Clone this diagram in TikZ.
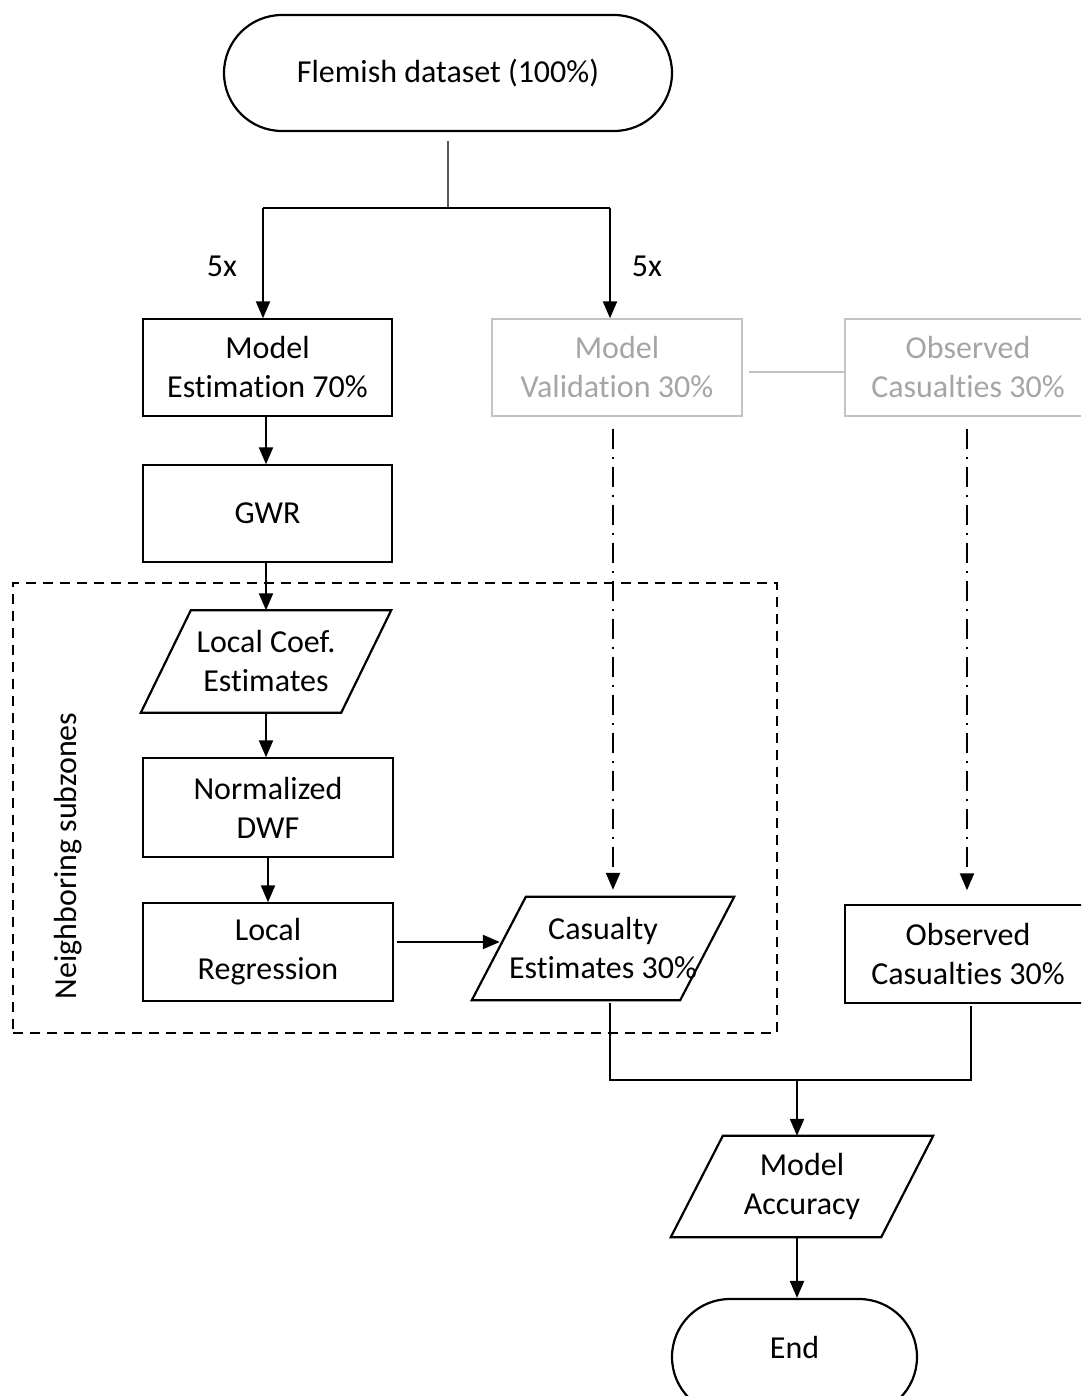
\documentclass[tikz,border=0pt]{standalone}
\usepackage{fontspec}
\setmainfont{Carlito}[Ligatures=NoCommon]
\usetikzlibrary{arrows.meta,shapes.misc,calc}
\definecolor{ghost}{RGB}{165,165,165}
\definecolor{ghostline}{RGB}{195,195,195}
\definecolor{stem}{RGB}{90,90,90}
% outline of a slanted data box around a text holder node
\newcommand\slantbox[2]{\draw[paraline] ([xshift=#2]#1.north west) -- ([xshift=#2]#1.north east) -- ([xshift=-#2]#1.south east) -- ([xshift=-#2]#1.south west) -- cycle;}
\begin{document}
\begin{tikzpicture}[x=1pt,y=-1pt,
  every node/.style={font=\fontsize{32}{39}\selectfont, align=center, inner sep=0pt},
  box/.style={draw=black, line width=1.4pt, minimum width=250pt, minimum height=98pt},
  ghostbox/.style={box, draw=ghostline, text=ghost},
  term/.style={rounded rectangle, draw=black, line width=2.2pt},
  slab/.style={inner sep=0pt},
  paraline/.style={line width=2.2pt, line join=miter},
  arr/.style={line width=2.2pt, -{Triangle[width=14pt,length=17pt]}},
  stemline/.style={line width=1.3pt, draw=stem},
  joinline/.style={line width=1.4pt, draw=black},
  hline/.style={line width=2pt},
  ghostlink/.style={line width=1.4pt, draw=ghostline},
  dashdot/.style={line width=2.4pt, dash pattern=on 20pt off 8pt on 2pt off 8pt},
  zone/.style={draw=black, line width=2.4pt, dash pattern=on 10pt off 7pt}
]
\useasboundingbox (0,0) rectangle (1081,1396);
\clip (0,0) rectangle (1081,1396);

% start terminal and the split into two folds
\node[term, minimum width=448pt, minimum height=116pt] (start) at (448,73) {Flemish dataset (100\%)};
\coordinate (splitL) at (263,208);
\coordinate (splitR) at (610,208);

% top row
\node[box, minimum width=249pt, minimum height=97pt] (est) at (267.5,367.5) {Model\\Estimation 70\%};
\node[ghostbox, minimum height=97pt] (val) at (617,367.5) {Model\\Validation 30\%};
\node[ghostbox, minimum width=246pt, minimum height=97pt] (obsg) at (968,367.5) {Observed\\Casualties 30\%};

\node (rep1) at (222,266) {5x};
\node (rep2) at (647,266) {5x};

% estimation chain
\node[box, minimum width=249pt, minimum height=97pt] (gwr) at (267.5,513.5) {GWR};
\node[zone, minimum width=764pt, minimum height=450pt] (zone) at (395,808) {};
\node[rotate=90] (zonelabel) at (68,856) {Neighboring subzones};
\node[slab, minimum width=200pt, minimum height=102pt] (lce) at (266,661.5) {Local Coef.\\Estimates};
\node[box, minimum height=99pt] (dwf) at (268,807.5) {Normalized\\DWF};
\node[box] (lr) at (268,952) {Local\\Regression};
\node[slab, minimum width=208pt, minimum height=103pt] (cas) at (603,948.5) {Casualty\\Estimates 30\%};
\node[box, minimum width=246pt] (obs) at (968,954) {Observed\\Casualties 30\%};

% final steps
\node[slab, minimum width=210pt, minimum height=101pt] (acc) at (802,1186.5) {Model\\Accuracy};
\node[term, minimum width=245pt, minimum height=116pt] (end) at (794.5,1357) {\raisebox{20pt}{End}};

\slantbox{lce}{25pt}
\slantbox{cas}{27pt}
\slantbox{acc}{26pt}

% connectors
\draw[stemline] ($(start.south)+(0,9)$) -- (start.south |- splitL);
\draw[hline] (splitL) -- (splitR);
\draw[arr] (splitL) -- (splitL |- est.north);
\draw[arr] (splitR) -- (splitR |- val.north);
\draw[ghostlink] ($(val.east)+(6,4.5)$) -- ($(obsg.west)+(0,4.5)$);

\draw[arr] ($(est.south)+(-1.5,0)$) -- ($(gwr.north)+(-1.5,0)$);
\draw[arr] ($(gwr.south)+(-1.5,0)$) -- (lce.north);
\draw[arr] (lce.south) -- (lce.south |- dwf.north);
\draw[arr] (dwf.south) -- (lr.north);
\draw[arr] ($(lr.east)+(3,-10)$) -- ($(cas.west)+(1,-6.5)$);

\coordinate (vx) at (613,0);
\coordinate (ox) at (967,0);
\draw[dashdot, arr] ($(val.south -| vx)+(0,12)$) -- ($(cas.north -| vx)+(0,-7)$);
\draw[dashdot, arr] ($(obsg.south -| ox)+(0,12)$) -- ($(obs.north -| ox)+(0,-14)$);

\coordinate (mL) at (610,1080);
\coordinate (mR) at (971,1080);
\coordinate (mC) at (797,1080);
\draw[joinline] ($(cas.south -| mL)+(0,3)$) -- (mL) -- (mR) -- ($(obs.south -| mR)+(0,2)$);
\draw[arr] (mC) -- (mC |- acc.north);
\draw[arr] (acc.south -| mC) -- (mC |- end.north);
\end{tikzpicture}
\end{document}
